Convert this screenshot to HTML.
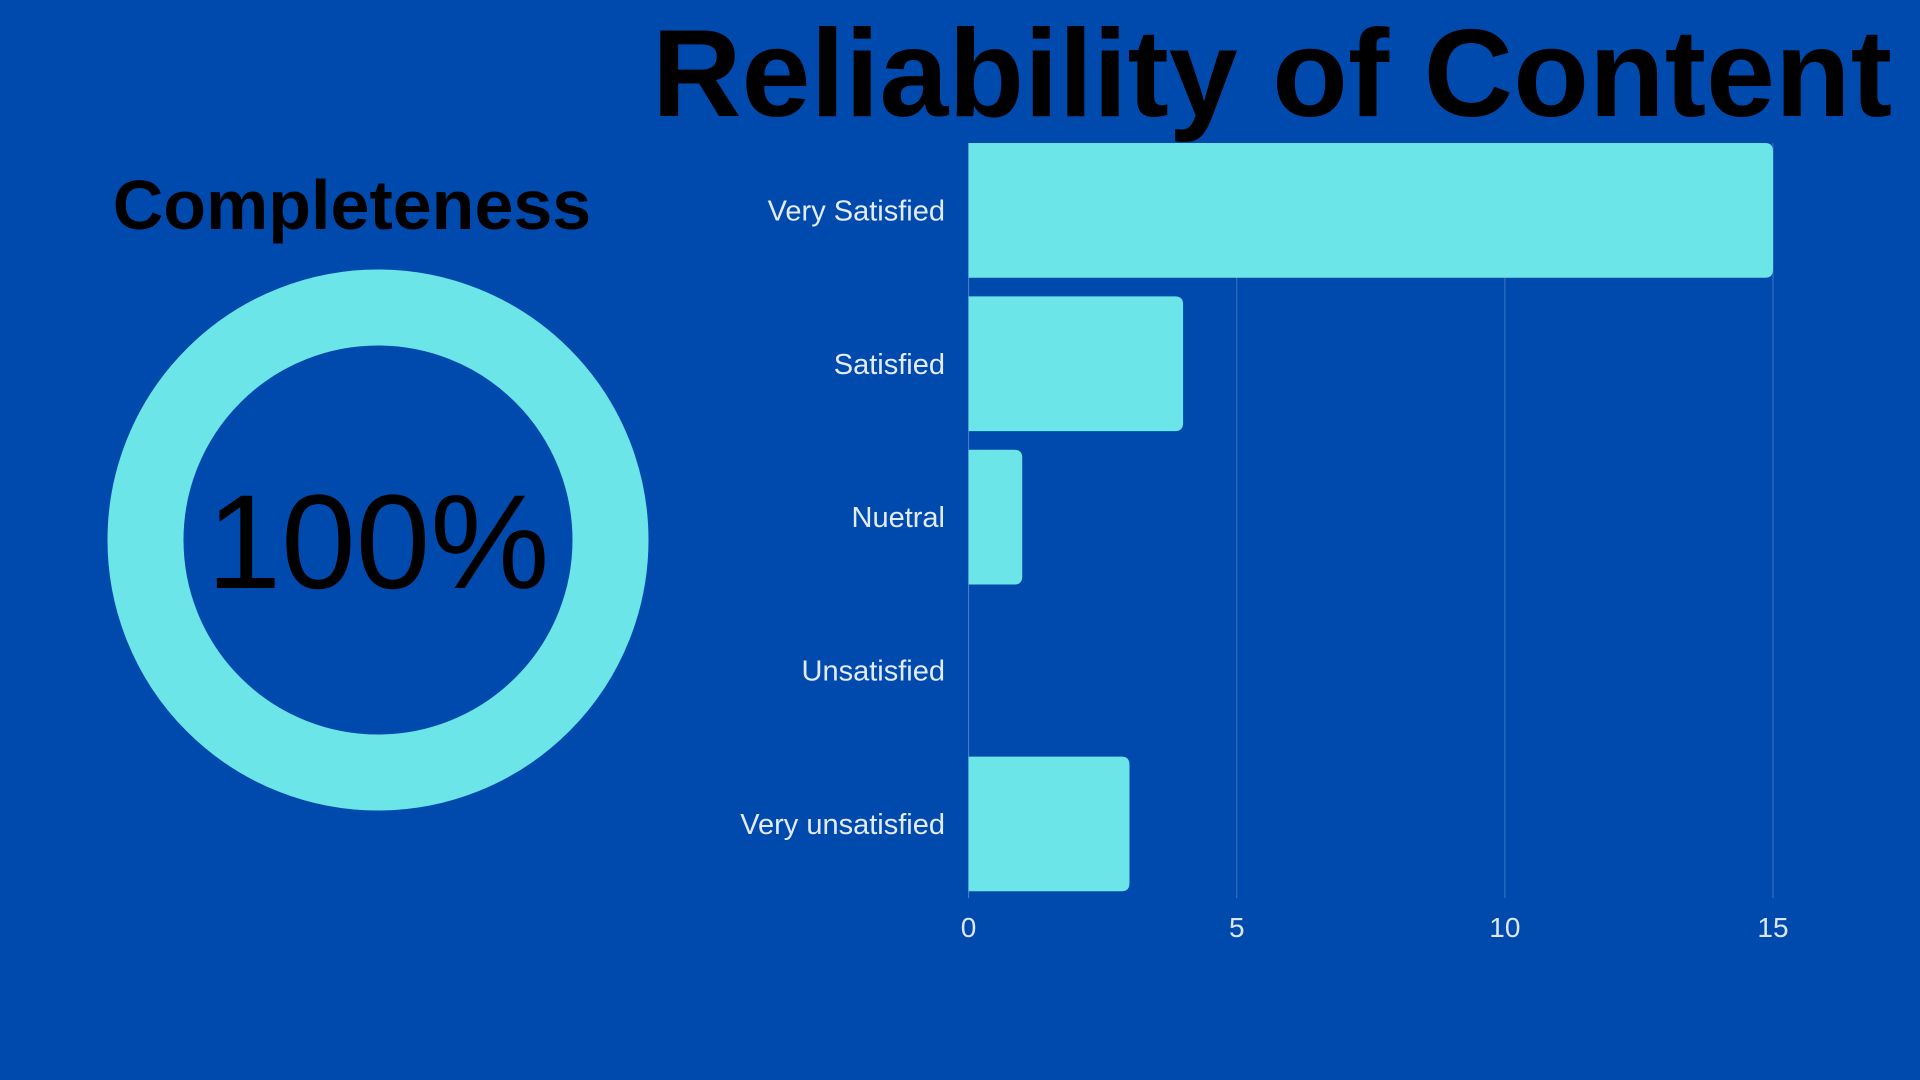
<!DOCTYPE html>
<html><head><meta charset="utf-8"><style>
html,body{margin:0;padding:0;background:#004AAD;width:1920px;height:1080px;overflow:hidden}
svg{display:block}
</style></head><body>
<svg width="1920" height="1080" xmlns="http://www.w3.org/2000/svg">
<rect width="1920" height="1080" fill="#004AAD"/>
<text x="1892" y="116" text-anchor="end" font-family="Liberation Sans, sans-serif" font-weight="bold" font-size="124" fill="#000">Reliability of Content</text>
<text x="352" y="229" text-anchor="middle" font-family="Liberation Sans, sans-serif" font-weight="bold" font-size="70" fill="#000">Completeness</text>
<circle cx="378" cy="540" r="232.5" fill="none" stroke="#6BE5E8" stroke-width="76"/>
<text x="378" y="588" text-anchor="middle" font-family="Liberation Sans, sans-serif" font-size="134" fill="#000">100%</text>
<g id="chart"></g>
</svg>
<script>
const categories=["Very Satisfied","Satisfied","Nuetral","Unsatisfied","Very unsatisfied"];
const values=[15,4,1,0,3];
const ticks=[0,5,10,15];
const NS="http://www.w3.org/2000/svg";
const g=document.getElementById('chart');
const x0=968.6,x1=1773,vmax=15,plotTop=143,band=153.4,barH=134.7;
const xs=v=>x0+(x1-x0)*v/vmax;
function mk(t,a){const e=document.createElementNS(NS,t);for(const k in a)e.setAttribute(k,a[k]);g.appendChild(e);return e;}
ticks.forEach(t=>{
  const l=mk('line',{x1:xs(t),x2:xs(t),y1:plotTop,y2:plotTop+band*5-12,stroke:t===0?'#4d7fcf':'#3f72c4','stroke-width':1});
  
  
  const tx=mk('text',{x:xs(t),y:937,'text-anchor':'middle','font-family':'Liberation Sans, sans-serif','font-size':28,fill:'#dde6f5'});
  tx.textContent=t;
  
  
});
categories.forEach((c,i)=>{
  const yy=plotTop+band*i;
  if(values[i]>0){
    const w=xs(values[i])-x0;
    const r=mk('path',{d:`M${x0},${yy} H${x0+w-8} Q${x0+w},${yy} ${x0+w},${yy+8} V${yy+barH-8} Q${x0+w},${yy+barH} ${x0+w-8},${yy+barH} H${x0} Z`,fill:'#6BE5E8'});
    
    
  }
  const t=mk('text',{x:945,y:yy+barH/2+10,'text-anchor':'end','font-family':'Liberation Sans, sans-serif','font-size':29,fill:'#e3ebf7'});
  t.textContent=c;
  
  
});
</script>
</body></html>
